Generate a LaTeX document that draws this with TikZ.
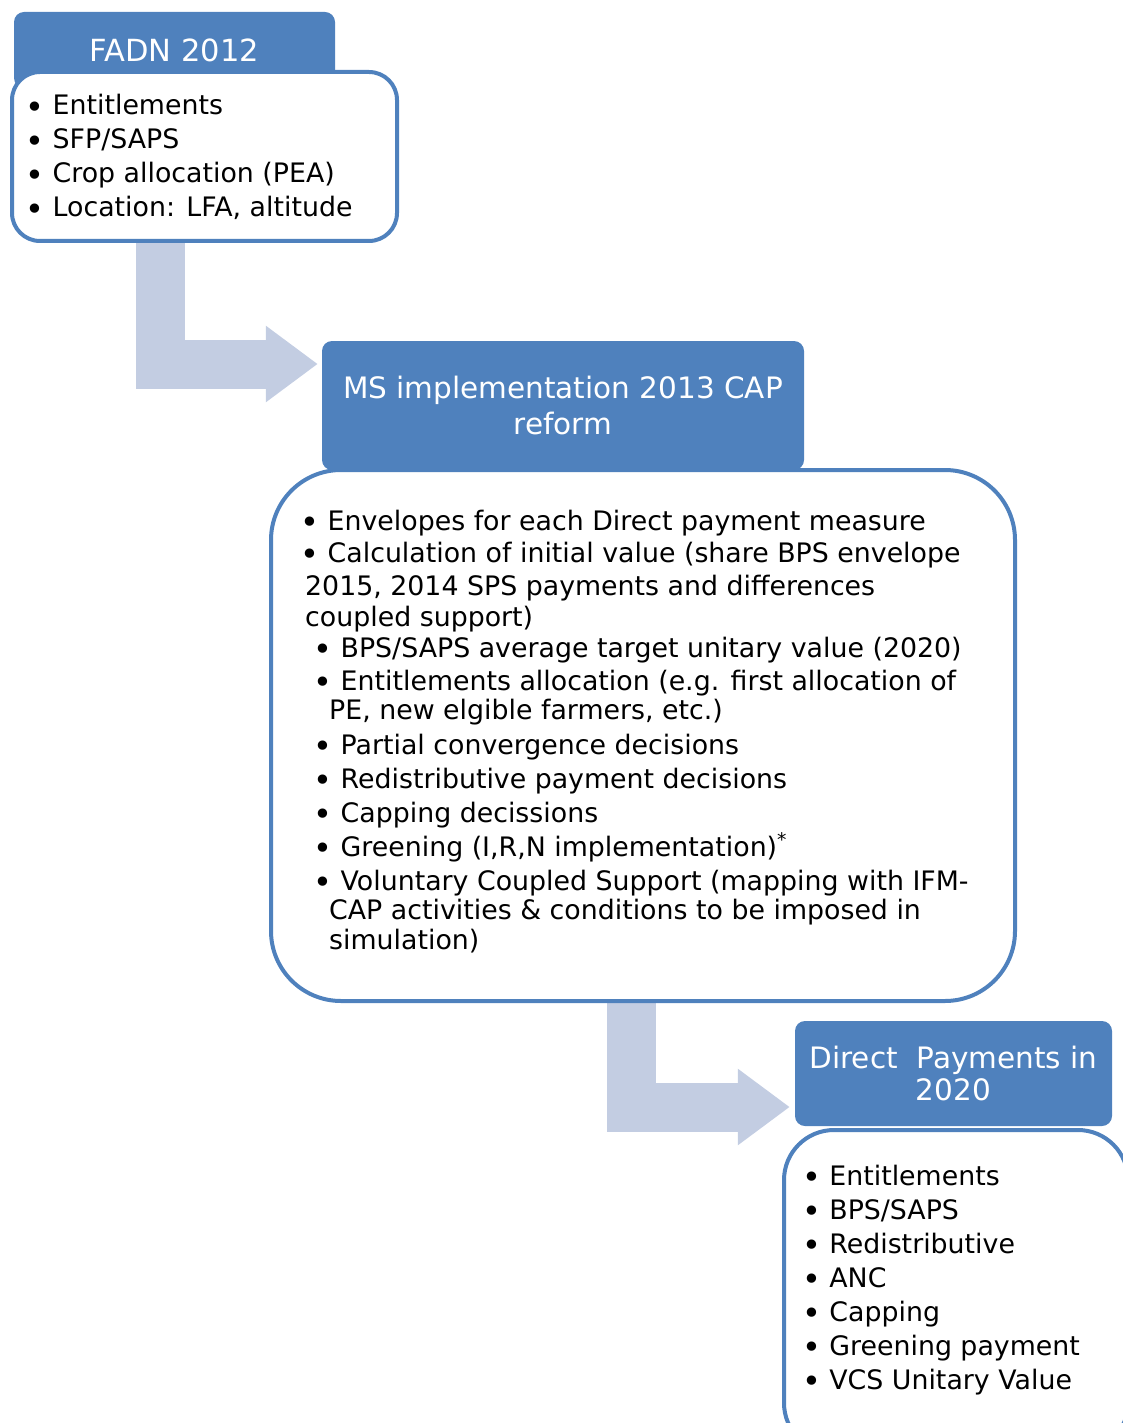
\documentclass[tikz,border=0pt]{standalone}
\usepackage{fontspec}
\setmainfont{DejaVu Sans}
\usetikzlibrary{arrows.meta,backgrounds}
\definecolor{hdr}{HTML}{4F81BD}
\definecolor{arr}{HTML}{C3CDE2}
\newcommand{\bul}{\raisebox{-3.5pt}{\fontsize{32}{32}\selectfont•}\hspace{8pt}}
\begin{document}
\begin{tikzpicture}[x=1pt,y=-1pt,
  hdrbox/.style={rectangle, rounded corners=10pt, fill=hdr, text=white, align=center,
                 font=\fontsize{29.5}{33}\selectfont, inner sep=0pt},
  listbox/.style={rectangle, draw=hdr, line width=4pt, fill=white, inner sep=0pt},
  item/.style={anchor=base west, inner sep=0pt, font=\fontsize{26.8}{32}\selectfont},
  flow/.style={draw=arr, line width=49pt, line join=miter,
               -{Triangle[length=52pt,width=73pt]}}
]
\path[use as bounding box] (0,0) rectangle (1123,1423);
\clip (0,0) rectangle (1123,1423);

% ---------- block 1 ----------
\node[hdrbox, minimum width=321pt, minimum height=76pt] (h1) at (174.5,50)
  {\fontsize{30.5}{33}\selectfont FADN 2012};
\node[listbox, rounded corners=28pt, minimum width=385pt, minimum height=169pt] (b1) at (204.5,156.5) {};
\node[item] (t11) at (25.6,115) {\bul Entitlements};
\node[item] (t12) at (25.6,149) {\bul SFP/SAPS};
\node[item] (t13) at (25.6,183) {\bul Crop allocation (PEA)};
\node[item] (t14) at (25.6,217) {\bul Location: LFA, altitude};

% ---------- block 2 ----------
\node[hdrbox, minimum width=482pt, minimum height=129pt] (h2) at (563,405.5)
  {\raisebox{-3pt}{MS implementation 2013 CAP}\\[3pt]\raisebox{-3pt}{reform}};
\node[listbox, rounded corners=70pt, minimum width=744pt, minimum height=531pt] (b2) at (643,735.5) {};
\node[item] (t21) at (300.6,530) {\bul Envelopes for each Direct payment measure};
\node[item] (t22) at (300.6,562) {\bul Calculation of initial value (share BPS envelope};
\node[item] (t23) at (305,595) {2015, 2014 SPS payments and differences};
\node[item] (t24) at (305,626) {coupled support)};
\node[item] (t25) at (313.6,657) {\bul BPS/SAPS average target unitary value (2020)};
\node[item] (t26) at (313.6,690) {\bul Entitlements allocation (e.g. first allocation of};
\node[item] (t27) at (329,719) {PE, new elgible farmers, etc.)};
\node[item] (t28) at (313.6,754) {\bul Partial convergence decisions};
\node[item] (t29) at (313.6,788) {\bul Redistributive payment decisions};
\node[item] (t210) at (313.6,822) {\bul Capping decissions};
\node[item] (t211) at (313.6,856) {\bul Greening (I,R,N implementation)\textsuperscript{*}};
\node[item] (t212) at (313.6,890) {\bul Voluntary Coupled Support (mapping with IFM-};
\node[item] (t213) at (329,919) {CAP activities \& conditions to be imposed in};
\node[item] (t214) at (329,949) {simulation)};

% ---------- block 3 ----------
\node[hdrbox, minimum width=317pt, minimum height=105pt] (h3) at (953.5,1073.5)
  {Direct\ \ Payments in\\[-1pt]2020};
\node[listbox, rounded corners=50pt, minimum width=344pt, minimum height=323pt] (b3) at (956,1291.5) {};
\node[item] (t31) at (802.3,1185) {\bul Entitlements};
\node[item] (t32) at (802.3,1219) {\bul BPS/SAPS};
\node[item] (t33) at (802.3,1253) {\bul Redistributive};
\node[item] (t34) at (802.3,1287) {\bul ANC};
\node[item] (t35) at (802.3,1321) {\bul Capping};
\node[item] (t36) at (802.3,1355) {\bul Greening payment};
\node[item] (t37) at (802.3,1389) {\bul VCS Unitary Value};

% ---------- connectors ----------
\begin{scope}[on background layer]
  \coordinate (a1) at ([shift={(-4,-41.5)}]h2.west);
  \coordinate (a2) at ([shift={(-5,33.5)}]h3.west);
  \draw[flow] ([xshift=-44pt]b1.south) |- (a1);
  \draw[flow] ([xshift=-11.5pt]b2.south) |- (a2);
\end{scope}
\end{tikzpicture}
\end{document}
